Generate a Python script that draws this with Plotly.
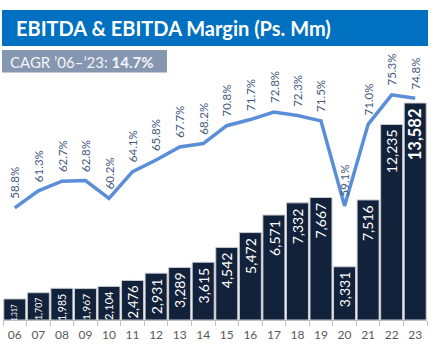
import plotly.graph_objects as go

years = ["06", "07", "08", "09", "10", "11", "12", "13", "14", "15",
         "16", "17", "18", "19", "20", "21", "22", "23"]
ebitda = [1317, 1707, 1985, 1967, 2104, 2476, 2931, 3289, 3615, 4542,
          5472, 6571, 7332, 7667, 3331, 7516, 12235, 13582]
margin = [58.8, 61.3, 62.7, 62.8, 60.2, 64.1, 65.8, 67.7, 68.2, 70.8,
          71.7, 72.8, 72.3, 71.5, 59.1, 71.0, 75.3, 74.8]

title_text = "EBITDA & EBITDA Margin (Ps. Mm)"
cagr_label = "CAGR ’06–’23: "
cagr_value = "14.7%"

W, H = 442, 344
L, R, T, B = 3, 427, 75, 320
pw, ph = R - L, B - T


def px(x):
    return (x - L) / pw


def py(y):
    return (B - y) / ph


bar_sizes = [6.6, 8.8, 10.5, 10.3, 11.2, 13, 14, 14, 14, 14,
             14, 14, 14, 14, 14, 14, 14, 16.5]

fig = go.Figure()
fig.add_trace(go.Bar(
    x=years, y=ebitda,
    marker=dict(color="#13223B", line=dict(color="#C8CCD2", width=1)),
    yaxis="y", showlegend=False, hoverinfo="skip",
))
fig.add_trace(go.Scatter(
    x=years, y=margin, mode="lines", yaxis="y2",
    line=dict(color="#5B8ED8", width=3.5),
    showlegend=False, hoverinfo="skip",
))

annotations = []
n = len(ebitda)
for i, (v, s) in enumerate(zip(ebitda, bar_sizes)):
    label = f"{v:,}"
    if i == n - 1:
        label = f"<b>{label}</b>"
    annotations.append(dict(
        x=i, y=v, xref="x", yref="y", text=label,
        textangle=-90, showarrow=False, yanchor="top", xanchor="center",
        yshift=-3, font=dict(color="white", size=s, family="Lato"),
    ))

for i, m in enumerate(margin):
    annotations.append(dict(
        x=i, y=m, xref="x", yref="y2", text=f"{m:.1f}%",
        textangle=-90, showarrow=False, yanchor="bottom", xanchor="center",
        yshift=7, font=dict(color="#44587C", size=11.5, family="Lato"),
    ))

annotations.append(dict(
    x=px(14), y=py(28), xref="paper", yref="paper", text=title_text,
    showarrow=False, xanchor="left", yanchor="middle",
    font=dict(color="white", size=20, family="Lato", weight="bold"),
))
annotations.append(dict(
    x=px(8), y=py(61.5), xref="paper", yref="paper",
    text=f"{cagr_label}<b>{cagr_value}</b>",
    showarrow=False, xanchor="left", yanchor="middle",
    font=dict(color="#F2F4F7", size=15, family="Lato"),
))

shapes = [
    dict(type="rect", xref="paper", yref="paper", x0=px(2), x1=px(428),
         y0=py(46), y1=py(10), fillcolor="#0070C0", line=dict(width=0),
         layer="below"),
    dict(type="rect", xref="paper", yref="paper", x0=px(2), x1=px(167),
         y0=py(72.5), y1=py(50), fillcolor="#8496B0", line=dict(width=0),
         layer="below"),
]

fig.update_layout(
    width=W, height=H,
    margin=dict(l=L, r=W - R, t=T, b=H - B, pad=0),
    paper_bgcolor="white", plot_bgcolor="white",
    bargap=0.065,
    xaxis=dict(type="category", showgrid=False, showline=True,
               linecolor="#BFBFBF", linewidth=1, ticks="outside",
               tickson="boundaries", ticklen=5, tickcolor="#BFBFBF",
               ticklabelstandoff=4,
               tickfont=dict(color="#595959", size=12, family="Lato"),
               range=[-0.5, len(years) - 0.5], zeroline=False),
    yaxis=dict(visible=False, range=[0, 15335], showgrid=False),
    yaxis2=dict(visible=False, range=[42.45, 78.2], overlaying="y",
                showgrid=False),
    annotations=annotations, shapes=shapes,
    font=dict(family="Lato"),
)

fig.write_html("out.html")
